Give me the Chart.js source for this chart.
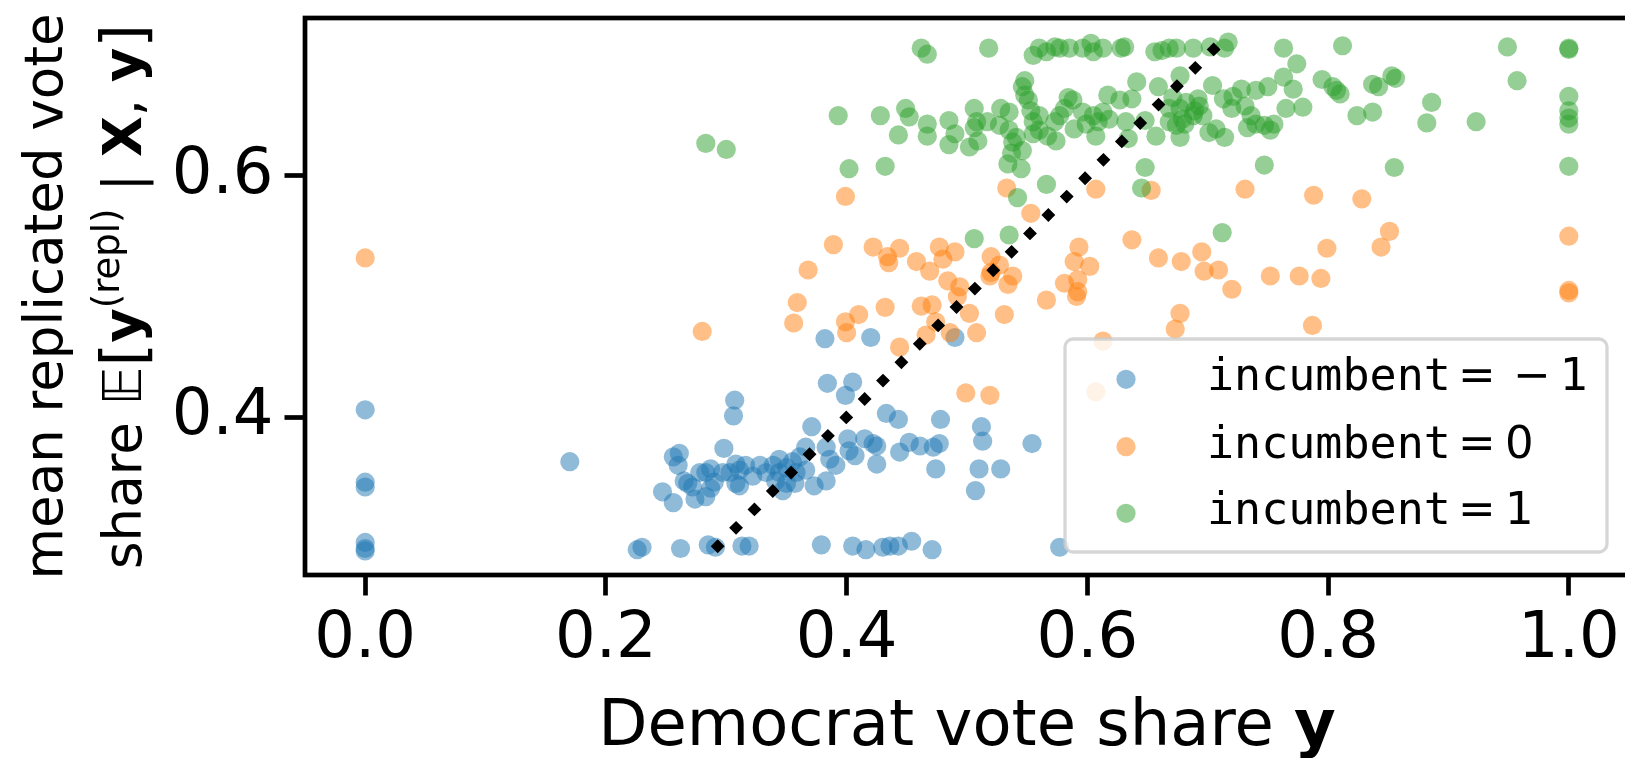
<!DOCTYPE html>
<html>
<head>
<meta charset="utf-8">
<script src="https://cdn.jsdelivr.net/npm/chart.js@4.4.1/dist/chart.umd.min.js"></script>
<style>
  html, body { margin: 0; padding: 0; background: #fff; overflow: hidden; width: 1625px; height: 758px; }
  canvas { display: block; }
</style>
</head>
<body>
<canvas id="scatter" width="1640" height="758" style="width:1640px;height:758px"></canvas>
<script>
// incumbent levels shown in the legend
const incumbentLevels = ['\u22121', '0', '1'];

// incumbent = -1 : observed Democrat share, mean replicated share
const demShareNeg1 = [0.000, 0.000, 0.000, 0.000, 0.000, 0.000, 0.170, 0.261, 0.256, 0.260,
  0.298, 0.307, 0.306, 0.247, 0.256, 0.265, 0.268, 0.274, 0.278, 0.283,
  0.287, 0.283, 0.287, 0.290, 0.297, 0.303, 0.308, 0.308, 0.272, 0.226,
  0.230, 0.262, 0.285, 0.291, 0.382, 0.420, 0.490, 0.384, 0.405, 0.399,
  0.433, 0.443, 0.478, 0.512, 0.513, 0.554, 0.371, 0.401, 0.415, 0.422,
  0.425, 0.452, 0.461, 0.472, 0.477, 0.444, 0.474, 0.510, 0.528, 0.507,
  0.425, 0.407, 0.402, 0.391, 0.386, 0.383, 0.373, 0.383, 0.366, 0.361,
  0.366, 0.357, 0.347, 0.344, 0.311, 0.316, 0.322, 0.328, 0.333, 0.339,
  0.344, 0.350, 0.355, 0.311, 0.350, 0.341, 0.358, 0.313, 0.319, 0.379,
  0.405, 0.416, 0.430, 0.436, 0.443, 0.454, 0.471, 0.577];
const replShareNeg1 = [0.406, 0.346, 0.342, 0.296, 0.291, 0.289, 0.363, 0.370, 0.367, 0.360,
  0.374, 0.414, 0.401, 0.338, 0.329, 0.347, 0.345, 0.332, 0.354, 0.354,
  0.357, 0.334, 0.341, 0.346, 0.354, 0.354, 0.361, 0.345, 0.342, 0.290,
  0.292, 0.291, 0.294, 0.292, 0.465, 0.466, 0.466, 0.428, 0.429, 0.418,
  0.403, 0.398, 0.398, 0.392, 0.380, 0.378, 0.392, 0.382, 0.382, 0.378,
  0.376, 0.379, 0.376, 0.375, 0.378, 0.371, 0.357, 0.357, 0.357, 0.339,
  0.361, 0.368, 0.372, 0.360, 0.365, 0.347, 0.343, 0.375, 0.375, 0.367,
  0.356, 0.345, 0.339, 0.365, 0.356, 0.360, 0.351, 0.360, 0.354, 0.360,
  0.354, 0.358, 0.363, 0.343, 0.345, 0.347, 0.354, 0.293, 0.293, 0.294,
  0.293, 0.290, 0.292, 0.293, 0.293, 0.297, 0.290, 0.292];

// incumbent = 0
const demShare0 = [0.000, 0.280, 0.359, 0.356, 0.399, 0.400, 0.410, 0.432, 0.462, 0.471,
  0.474, 0.466, 0.444, 0.486, 0.508, 0.502, 0.531, 0.566, 0.591, 0.499,
  0.519, 0.613, 0.607, 0.677, 0.673, 0.787, 1.000, 1.000, 0.492, 0.731,
  0.788, 0.828, 0.851, 0.844, 0.799, 0.695, 0.697, 0.709, 0.720, 0.752,
  0.776, 0.794, 1.000, 0.399, 0.533, 0.607, 0.653, 0.553, 0.389, 0.368,
  0.422, 0.434, 0.435, 0.444, 0.458, 0.469, 0.477, 0.480, 0.490, 0.484,
  0.494, 0.520, 0.527, 0.538, 0.519, 0.534, 0.593, 0.589, 0.602, 0.581,
  0.592, 0.592, 0.637, 0.659, 0.678, 0.520];
const replShare0 = [0.532, 0.471, 0.495, 0.478, 0.479, 0.470, 0.485, 0.491, 0.492, 0.493,
  0.479, 0.468, 0.458, 0.470, 0.470, 0.486, 0.485, 0.497, 0.500, 0.420,
  0.418, 0.463, 0.421, 0.486, 0.473, 0.476, 0.505, 0.503, 0.500, 0.589,
  0.584, 0.581, 0.554, 0.541, 0.540, 0.537, 0.521, 0.522, 0.506, 0.517,
  0.517, 0.515, 0.550, 0.583, 0.590, 0.589, 0.588, 0.569, 0.543, 0.522,
  0.541, 0.533, 0.528, 0.540, 0.529, 0.521, 0.541, 0.531, 0.537, 0.513,
  0.508, 0.533, 0.526, 0.517, 0.517, 0.510, 0.541, 0.529, 0.525, 0.511,
  0.514, 0.504, 0.547, 0.532, 0.529, 0.520];

// incumbent = 1
const demShare1 = [0.283, 0.300, 0.462, 0.467, 0.518, 0.555, 0.560, 0.566, 0.573, 0.577,
  0.585, 0.596, 0.603, 0.605, 0.613, 0.628, 0.631, 0.656, 0.662, 0.668,
  0.674, 0.688, 0.702, 0.714, 0.717, 0.763, 0.812, 0.949, 1.000, 1.000,
  0.774, 0.957, 1.000, 1.000, 1.000, 1.000, 1.000, 0.886, 0.882, 0.923,
  0.855, 0.747, 0.712, 0.853, 0.856, 0.837, 0.842, 0.824, 0.837, 0.795,
  0.804, 0.807, 0.810, 0.771, 0.763, 0.779, 0.765, 0.750, 0.755, 0.752,
  0.740, 0.733, 0.736, 0.747, 0.740, 0.728, 0.721, 0.720, 0.713, 0.731,
  0.704, 0.714, 0.707, 0.701, 0.693, 0.689, 0.682, 0.677, 0.679, 0.677,
  0.681, 0.688, 0.696, 0.692, 0.677, 0.393, 0.428, 0.449, 0.452, 0.443,
  0.467, 0.467, 0.485, 0.490, 0.485, 0.502, 0.506, 0.508, 0.506, 0.509,
  0.517, 0.528, 0.535, 0.527, 0.535, 0.541, 0.538, 0.546, 0.537, 0.534,
  0.545, 0.548, 0.546, 0.548, 0.551, 0.553, 0.555, 0.560, 0.560, 0.555,
  0.567, 0.574, 0.573, 0.577, 0.584, 0.588, 0.581, 0.589, 0.596, 0.599,
  0.605, 0.607, 0.609, 0.613, 0.617, 0.618, 0.627, 0.637, 0.641, 0.632,
  0.634, 0.648, 0.657, 0.659, 0.668, 0.671, 0.648, 0.645, 0.566, 0.542,
  0.402, 0.432, 0.535, 0.506, 0.668, 0.674];
const replShare1 = [0.627, 0.622, 0.706, 0.701, 0.706, 0.700, 0.706, 0.703, 0.707, 0.706,
  0.706, 0.706, 0.710, 0.703, 0.706, 0.706, 0.707, 0.703, 0.704, 0.706,
  0.706, 0.706, 0.707, 0.706, 0.711, 0.706, 0.708, 0.707, 0.706, 0.705,
  0.693, 0.679, 0.666, 0.654, 0.648, 0.643, 0.608, 0.661, 0.644, 0.645,
  0.607, 0.609, 0.553, 0.683, 0.681, 0.676, 0.674, 0.650, 0.653, 0.680,
  0.674, 0.671, 0.668, 0.672, 0.682, 0.657, 0.656, 0.674, 0.643, 0.638,
  0.643, 0.640, 0.650, 0.642, 0.671, 0.672, 0.666, 0.656, 0.664, 0.658,
  0.675, 0.632, 0.639, 0.636, 0.658, 0.654, 0.661, 0.656, 0.647, 0.632,
  0.643, 0.650, 0.650, 0.664, 0.683, 0.650, 0.650, 0.656, 0.649, 0.634,
  0.643, 0.633, 0.646, 0.635, 0.626, 0.624, 0.656, 0.645, 0.640, 0.629,
  0.645, 0.656, 0.653, 0.642, 0.638, 0.632, 0.628, 0.621, 0.619, 0.610,
  0.606, 0.679, 0.674, 0.667, 0.663, 0.654, 0.645, 0.650, 0.638, 0.635,
  0.633, 0.629, 0.645, 0.650, 0.665, 0.663, 0.656, 0.639, 0.653, 0.643,
  0.650, 0.633, 0.645, 0.653, 0.667, 0.647, 0.663, 0.664, 0.678, 0.645,
  0.631, 0.646, 0.633, 0.674, 0.656, 0.665, 0.607, 0.590, 0.593, 0.582,
  0.606, 0.608, 0.551, 0.548, 0.645, 0.642];

// y = x reference line, drawn between these values
const identityLine = [0.29, 0.71];

const xTickValues = [0.0, 0.2, 0.4, 0.6, 0.8, 1.0];
const yTickValues = [0.4, 0.6];

const seriesColors = ['rgba(31,119,180,0.5)', 'rgba(255,127,14,0.5)', 'rgba(44,160,44,0.5)'];

function toPoints(xs, ys) {
  return xs.map((x, i) => ({ x: x, y: ys[i] }));
}

const pointSets = [
  toPoints(demShareNeg1, replShareNeg1),
  toPoints(demShare0, replShare0),
  toPoints(demShare1, replShare1)
];

const scatterSets = pointSets.map((pts, i) => ({
  type: 'scatter',
  label: 'incumbent = ' + incumbentLevels[i],
  data: pts,
  pointRadius: 9.6,
  pointHoverRadius: 9.6,
  pointBorderWidth: 0,
  pointBackgroundColor: seriesColors[i],
  order: 3 - i
}));

const FONT = '"DejaVu Sans"';

// frame, axis titles and the legend box
const decorations = {
  id: 'decorations',
  afterDatasetsDraw(chart) {
    const ctx = chart.ctx;
    const a = chart.chartArea;
    ctx.save();
    ctx.strokeStyle = '#000';
    ctx.lineWidth = 4.7;
    ctx.strokeRect(a.left, a.top, a.right - a.left, a.bottom - a.top);

    // legend
    const bx = 1065, by = 339, bw = 542, bh = 213, r = 8;
    ctx.beginPath();
    ctx.roundRect(bx, by, bw, bh, r);
    ctx.fillStyle = 'rgba(255,255,255,0.8)';
    ctx.fill();
    ctx.lineWidth = 3.3;
    ctx.strokeStyle = 'rgba(204,204,204,0.8)';
    ctx.stroke();
    const rows = [379.3, 446.7, 513.3];
    rows.forEach((ry, i) => {
      ctx.beginPath();
      ctx.arc(1126, ry, 9.6, 0, Math.PI * 2);
      ctx.fillStyle = seriesColors[i];
      ctx.fill();
      ctx.fillStyle = '#000';
      ctx.textBaseline = 'alphabetic';
      ctx.textAlign = 'left';
      ctx.font = '45px "DejaVu Sans Mono"';
      ctx.fillText('incumbent', 1207, ry + 11);
      ctx.font = '45px ' + FONT;
      ctx.fillText('=', 1458, ry + 11);
      const lvl = incumbentLevels[i];
      if (lvl.length > 1) {
        ctx.fillText(lvl[0], 1513, ry + 11);
        ctx.fillText(lvl.slice(1), 1560, ry + 11);
      } else {
        ctx.fillText(lvl, 1505, ry + 11);
      }
    });
    ctx.restore();
  },
  afterDraw(chart) {
    const ctx = chart.ctx;
    const a = chart.chartArea;
    ctx.save();
    ctx.fillStyle = '#000';
    ctx.textBaseline = 'alphabetic';
    ctx.textAlign = 'left';

    // x title
    const reg = '64px ' + FONT, bold = 'bold 64px ' + FONT;
    ctx.font = reg;
    const t1 = 'Democrat vote share ';
    const w1 = ctx.measureText(t1).width;
    ctx.font = bold;
    const w2 = ctx.measureText('y').width;
    const cx = (a.left + a.right) / 2;
    let x0 = cx - (w1 + w2) / 2;
    ctx.font = reg;
    ctx.fillText(t1, x0, 745);
    ctx.font = bold;
    ctx.fillText('y', x0 + w1, 745);

    // y title, two lines, rotated
    const cy = (a.top + a.bottom) / 2;
    ctx.translate(0, cy);
    ctx.rotate(-Math.PI / 2);
    const s = 53;
    ctx.font = s + 'px ' + FONT;
    ctx.textAlign = 'center';
    ctx.fillText('mean replicated vote', 0, 62);
    ctx.textAlign = 'left';
    const pieces = [
      { t: 'share ', f: s + 'px ' + FONT },
      { t: '\u{1D53C}', f: s + 'px ' + FONT },
      { t: '[', f: Math.round(s * 1.15) + 'px ' + FONT, dy: 3 },
      { t: 'y', f: 'bold ' + s + 'px ' + FONT },
      { t: '(repl)', f: Math.round(s * 0.7) + 'px ' + FONT, dy: -22 },
      { t: ' | ', f: s + 'px ' + FONT },
      { t: 'X', f: 'bold ' + s + 'px ' + FONT },
      { t: ', ', f: s + 'px ' + FONT },
      { t: 'y', f: 'bold ' + s + 'px ' + FONT },
      { t: ']', f: Math.round(s * 1.15) + 'px ' + FONT, dy: 3 }
    ];
    let total = 0;
    pieces.forEach(p => { ctx.font = p.f; p.w = ctx.measureText(p.t).width; total += p.w; });
    let u = -total / 2;
    const base2 = 141;
    pieces.forEach(p => {
      ctx.font = p.f;
      ctx.fillText(p.t, u, base2 + (p.dy || 0));
      u += p.w;
    });
    ctx.restore();
  }
};

const chart = new Chart(document.getElementById('scatter').getContext('2d'), {
  type: 'scatter',
  data: {
    datasets: [
      {
        type: 'line',
        label: 'identity',
        data: identityLine.map(v => ({ x: v, y: v })),
        borderColor: '#000',
        borderWidth: 9.8,
        borderDash: [9.8, 16.2],
        borderCapStyle: 'butt',
        pointRadius: 0,
        fill: false,
        order: 0
      },
      ...scatterSets
    ]
  },
  options: {
    responsive: false,
    animation: false,
    devicePixelRatio: 1,
    layout: { padding: { left: 0, top: 18, right: 11, bottom: 0 }, autoPadding: false },
    plugins: { legend: { display: false }, tooltip: { enabled: false } },
    scales: {
      x: {
        type: 'linear',
        min: -0.05,
        max: 1.05,
        afterFit(scale) {
          scale.height = 183;
          scale.paddingLeft = 0; scale.paddingRight = 0;
        },
        afterBuildTicks(scale) { scale.ticks = xTickValues.map(v => ({ value: v })); },
        grid: { drawOnChartArea: false, drawTicks: true, tickLength: 20.5, tickWidth: 4.7, tickColor: '#000' },
        border: { display: false },
        ticks: {
          color: '#000',
          font: { family: 'DejaVu Sans', size: 64 },
          padding: 6,
          maxRotation: 0,
          autoSkip: false,
          callback: v => v.toFixed(1)
        }
      },
      y: {
        type: 'linear',
        min: 0.269,
        max: 0.731,
        afterFit(scale) {
          scale.width = 305;
          scale.paddingTop = 0; scale.paddingBottom = 0;
        },
        afterBuildTicks(scale) { scale.ticks = yTickValues.map(v => ({ value: v })); },
        grid: { drawOnChartArea: false, drawTicks: true, tickLength: 20.5, tickWidth: 4.7, tickColor: '#000' },
        border: { display: false },
        ticks: {
          color: '#000',
          font: { family: 'DejaVu Sans', size: 64 },
          padding: 11,
          autoSkip: false,
          callback: v => v.toFixed(1)
        }
      }
    }
  },
  plugins: [decorations]
});
</script>
</body>
</html>
